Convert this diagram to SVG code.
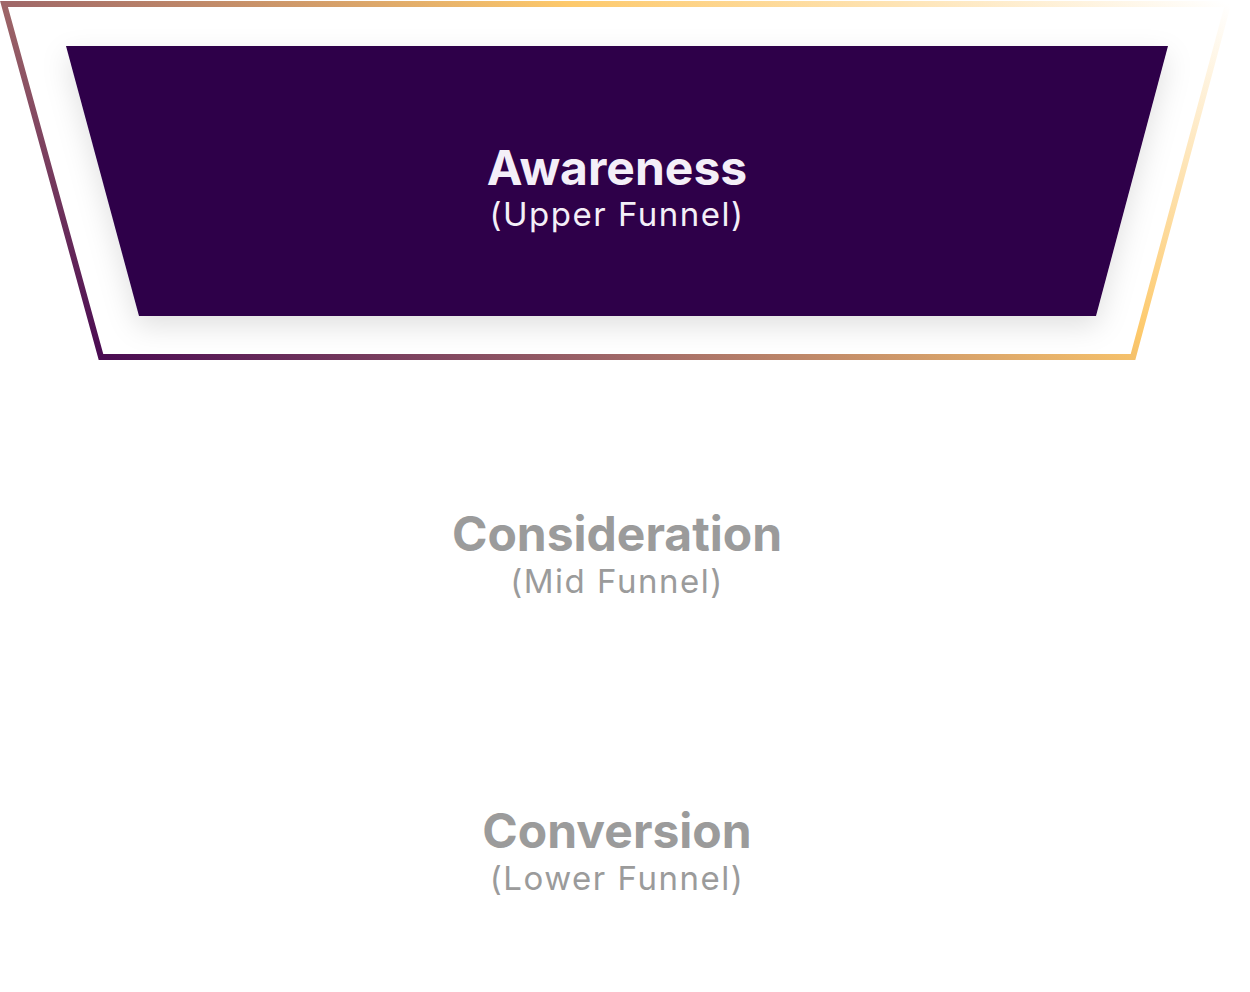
<svg xmlns="http://www.w3.org/2000/svg" width="1250" height="992" viewBox="0 0 1250 992">
  <style>
    .title { font-family: Inter, "Noto Sans", "Liberation Sans", sans-serif; font-weight: 700; font-size: 48px; text-anchor: middle; }
    .sub { font-family: Inter, "Noto Sans", "Liberation Sans", sans-serif; font-weight: 400; font-size: 33px; letter-spacing: 1.5px; text-anchor: middle; }
    .active { fill: #f4eff8; }
    .inactive { fill: #9b9b9b; }
  </style>
  <defs>
    <linearGradient id="border" gradientUnits="userSpaceOnUse" x1="-129" y1="224" x2="304" y2="-528">
      <stop offset="0" stop-color="#4a0b52"/>
      <stop offset="0.3" stop-color="#a06868"/>
      <stop offset="0.62" stop-color="#fdc96b"/>
      <stop offset="1" stop-color="#ffffff"/>
    </linearGradient>
    <filter id="shadow" x="-10%" y="-20%" width="120%" height="150%">
      <feDropShadow dx="0" dy="10" stdDeviation="14" flood-color="#000000" flood-opacity="0.12"/>
    </filter>
  </defs>
  <rect width="1250" height="992" fill="#ffffff"/>
  <g id="awareness">
    <polygon points="4,4 1228,4 1133,357 101,357" fill="#ffffff" stroke="url(#border)" stroke-width="6" stroke-linejoin="miter"/>
    <polygon points="66,46 1168,46 1096,316 139,316" fill="#2e0649" filter="url(#shadow)"/>
    <text class="title active" x="617" y="185">Awareness</text>
    <text class="sub active" x="617" y="226">(Upper Funnel)</text>
  </g>
  <g id="consideration">
    <text class="title inactive" x="617" y="551">Consideration</text>
    <text class="sub inactive" x="617" y="593">(Mid Funnel)</text>
  </g>
  <g id="conversion">
    <text class="title inactive" x="617" y="848">Conversion</text>
    <text class="sub inactive" x="617" y="890">(Lower Funnel)</text>
  </g>
  <g id="connectors"/>
</svg>
